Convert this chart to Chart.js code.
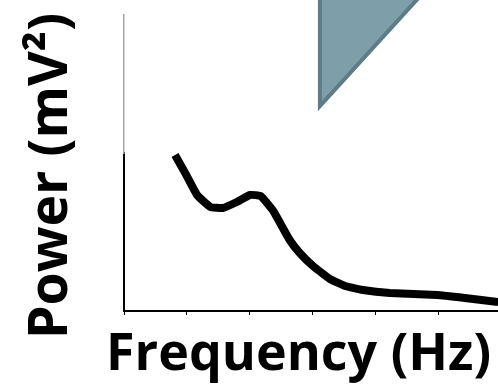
<!DOCTYPE html>
<html>
<head>
<meta charset="utf-8">
<script src="https://cdn.jsdelivr.net/npm/chart.js@4.4.1/dist/chart.umd.min.js"></script>
<style>
  html, body { margin: 0; padding: 0; background: #fff; overflow: hidden; }
  #wrap { width: 498px; height: 387px; position: relative; }
</style>
</head>
<body>
<div id="wrap"><canvas id="c"></canvas></div>
<script>
// Power spectrum trace (frequency in axis units, power in arbitrary units)
const freq  = [0.81, 0.98, 1.16, 1.37, 1.57, 1.79, 2.00, 2.17, 2.37, 2.63, 2.79, 3.00, 3.27, 3.51, 3.79, 4.22, 4.97, 5.41, 5.94];
const power = [156, 137, 116, 104, 103, 109, 116, 115, 100, 71, 58, 45, 32, 25, 21, 18, 16, 13, 9];

// Marker wedge in the upper panel
const wedgeX = [3.11, 4.79, 3.11, 3.11];
const wedgeY = [163, 163, 47, 163];

const xTitle = 'Frequency (Hz)';
const yTitle = 'Power (mV\u00B2)';

const toPoints = (xs, ys) => xs.map((x, i) => ({ x, y: ys[i] }));

const titlePlugin = {
  id: 'axisTitleText',
  afterDraw(chart) {
    const { ctx, chartArea } = chart;
    ctx.save();
    ctx.fillStyle = '#000';
    ctx.textBaseline = 'alphabetic';
    ctx.textAlign = 'left';
    ctx.font = 'bold 52px "Open Sans"';
    ctx.fillText(xTitle, chartArea.left - 18, chartArea.bottom + 59);
    ctx.font = 'bold 53.5px "Open Sans"';
    ctx.translate(chartArea.left - 57, chartArea.bottom + 28);
    ctx.rotate(-Math.PI / 2);
    ctx.fillText(yTitle, 0, 0);
    ctx.restore();
  }
};

new Chart(document.getElementById('c'), {
  type: 'scatter',
  data: {
    datasets: [
      {
        data: toPoints(wedgeX, wedgeY),
        yAxisID: 'y2',
        showLine: true,
        fill: 'shape',
        backgroundColor: '#7e9fa9',
        borderColor: '#5f7c84',
        borderWidth: 4,
        borderJoinStyle: 'miter',
        pointRadius: 0,
        tension: 0,
        clip: false
      },
      {
        data: toPoints(freq, power),
        yAxisID: 'y',
        showLine: true,
        fill: false,
        borderColor: '#000',
        borderWidth: 8,
        borderJoinStyle: 'round',
        borderCapStyle: 'butt',
        pointRadius: 0,
        tension: 0.12,
        clip: false
      }
    ]
  },
  options: {
    responsive: true,
    maintainAspectRatio: false,
    animation: false,
    layout: { padding: { left: 124, top: 0, right: 0, bottom: 72 } },
    plugins: { legend: { display: false }, tooltip: { enabled: false } },
    scales: {
      x: {
        type: 'linear',
        min: 0,
        max: 5.937,
        afterBuildTicks: s => { s.ticks = s.ticks.filter(t => Number.isInteger(t.value)); },
        ticks: { display: false, stepSize: 1 },
        grid: { display: true, drawOnChartArea: false, drawTicks: true, tickLength: 4, color: '#000', lineWidth: 1 },
        border: { display: true, color: '#000', width: 2 }
      },
      // lower panel
      y: {
        type: 'linear',
        position: 'left',
        stack: 'panels',
        stackWeight: 158,
        min: 0,
        max: 158,
        ticks: { display: false },
        grid: { display: false, drawTicks: false },
        border: { display: true, color: '#000', width: 2 }
      },
      // upper panel
      y2: {
        type: 'linear',
        position: 'left',
        stack: 'panels',
        stackWeight: 138,
        min: 0,
        max: 138,
        ticks: { display: false },
        grid: { display: false, drawTicks: false },
        border: { display: true, color: '#a6a6a6', width: 1.5 }
      },
      // blank strip above the upper panel
      y3: {
        type: 'linear',
        position: 'left',
        stack: 'panels',
        stackWeight: 15,
        min: 0,
        max: 15,
        ticks: { display: false },
        grid: { display: false, drawTicks: false },
        border: { display: false }
      }
    }
  },
  plugins: [titlePlugin]
});
</script>
</body>
</html>
